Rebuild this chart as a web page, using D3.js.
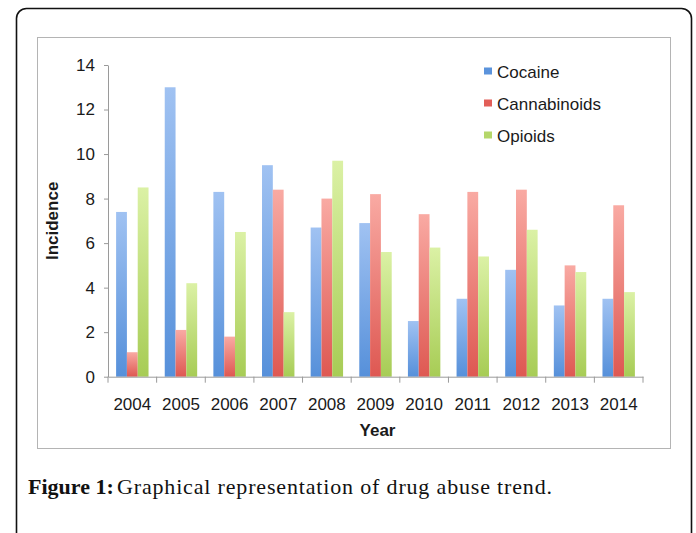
<!DOCTYPE html>
<html>
<head>
<meta charset="utf-8">
<script src="https://cdn.jsdelivr.net/npm/d3@7"></script>
<style>
  html, body { margin: 0; padding: 0; background: #fff; }
  svg { display: block; }
</style>
</head>
<body>
<svg id="chart" width="696" height="533"></svg>
<script>
// ---- data ----
const years = ["2004","2005","2006","2007","2008","2009","2010","2011","2012","2013","2014"];
const seriesNames = ["Cocaine","Cannabinoids","Opioids"];
const cocaine      = [7.4, 13.0, 8.3, 9.5, 6.7, 6.9, 2.5, 3.5, 4.8, 3.2, 3.5];
const cannabinoids = [1.1, 2.1, 1.8, 8.4, 8.0, 8.2, 7.3, 8.3, 8.4, 5.0, 7.7];
const opioids      = [8.5, 4.2, 6.5, 2.9, 9.7, 5.6, 5.8, 5.4, 6.6, 4.7, 3.8];
const yTicks = [0, 2, 4, 6, 8, 10, 12, 14];
const yLabel = "Incidence";
const xLabel = "Year";
const captionBold = "Figure 1:";
const captionText = "Graphical representation of drug abuse trend.";

const seriesValues = { "Cocaine": cocaine, "Cannabinoids": cannabinoids, "Opioids": opioids };
const colors = {
  "Cocaine":      { top: "#a0c2f2", bottom: "#5690da", legend: "#5b93dc" },
  "Cannabinoids": { top: "#f9aaa3", bottom: "#de5852", legend: "#e25e58" },
  "Opioids":      { top: "#dbf1a5", bottom: "#a7cc55", legend: "#b5d76a" }
};

const svg = d3.select("#chart");
const font = "'Liberation Sans', Arial, Helvetica, sans-serif";

// gradients
const defs = svg.append("defs");
seriesNames.forEach((s, i) => {
  const g = defs.append("linearGradient").attr("id", "grad" + i)
    .attr("x1", 0).attr("y1", 0).attr("x2", 0).attr("y2", 1);
  g.append("stop").attr("offset", "0%").attr("stop-color", colors[s].top);
  g.append("stop").attr("offset", "100%").attr("stop-color", colors[s].bottom);
});

// outer frame
svg.append("rect")
  .attr("x", 16.5).attr("y", 8.5).attr("width", 675).attr("height", 620)
  .attr("rx", 10).attr("ry", 10)
  .attr("fill", "none").attr("stroke", "#111").attr("stroke-width", 1.6);

// inner chart frame
svg.append("rect")
  .attr("x", 37.5).attr("y", 37.5).attr("width", 633).attr("height", 411)
  .attr("fill", "#fff").attr("stroke", "#b4b4b4").attr("stroke-width", 1);

// scales
const plotLeft = 108, plotRight = 643, plotTop = 65, plotBottom = 376.7;
const y = d3.scaleLinear().domain([0, 14]).range([plotBottom, plotTop]);
const x0 = d3.scaleBand().domain(years).range([plotLeft, plotRight]).padding(0);
const x1 = d3.scaleBand().domain(seriesNames).range([0, x0.bandwidth()])
  .paddingInner(0).paddingOuter(0.75);

// bars
const groups = svg.append("g").selectAll("g")
  .data(years.map((yr, i) => ({ yr, i })))
  .join("g")
  .attr("transform", d => `translate(${x0(d.yr)},0)`);

groups.selectAll("rect")
  .data(d => seriesNames.map((s, si) => ({ s, si, v: seriesValues[s][d.i] })))
  .join("rect")
  .attr("x", d => x1(d.s))
  .attr("width", x1.bandwidth())
  .attr("y", d => y(d.v))
  .attr("height", d => y(0) - y(d.v))
  .attr("fill", d => `url(#grad${d.si})`);

// y axis
const yAxis = d3.axisLeft(y).tickValues(yTicks).tickSize(4).tickPadding(9).tickSizeOuter(0);
const gy = svg.append("g").attr("transform", `translate(${plotLeft},0)`).call(yAxis);
gy.select(".domain").attr("stroke", "#9a9a9a");
gy.selectAll(".tick line").attr("stroke", "#9a9a9a");
gy.selectAll(".tick text").attr("font-family", font).attr("font-size", 17).attr("fill", "#1a1a1a");

// x axis
const xAxis = d3.axisBottom(x0).tickSize(0).tickPadding(21);
const gx = svg.append("g").attr("transform", `translate(0,${plotBottom})`).call(xAxis);
gx.select(".domain").attr("stroke", "#9a9a9a");
gx.selectAll(".tick text").attr("font-family", font).attr("font-size", 17).attr("fill", "#1a1a1a");
// boundary tick marks between groups
const bounds = years.map(yr => x0(yr)).concat([plotRight]);
gx.selectAll(".bound").data(bounds).join("line").attr("class", "bound")
  .attr("x1", d => d).attr("x2", d => d).attr("y1", 0).attr("y2", 6)
  .attr("stroke", "#9a9a9a");

// axis titles
svg.append("text")
  .attr("x", (plotLeft + plotRight) / 2 + 2).attr("y", 436)
  .attr("text-anchor", "middle").attr("font-family", font).attr("font-weight", "bold")
  .attr("font-size", 17).attr("fill", "#1a1a1a").text(xLabel);

svg.append("text")
  .attr("transform", `translate(58,${(plotTop + plotBottom) / 2}) rotate(-90)`)
  .attr("text-anchor", "middle").attr("font-family", font).attr("font-weight", "bold")
  .attr("font-size", 17).attr("fill", "#1a1a1a").text(yLabel);

// legend
const legend = svg.append("g").selectAll("g").data(seriesNames).join("g")
  .attr("transform", (d, i) => `translate(484,${71.5 + i * 32})`);
legend.append("rect").attr("x", 0).attr("y", -4).attr("width", 8).attr("height", 7)
  .attr("fill", d => colors[d].legend);
legend.append("text").attr("x", 13).attr("y", 6)
  .attr("font-family", font).attr("font-size", 17).attr("fill", "#1a1a1a")
  .text(d => d);

// caption
const serif = "'Liberation Serif', 'Times New Roman', serif";
svg.append("text").attr("x", 28).attr("y", 494)
  .attr("font-family", serif).attr("font-size", 22).attr("font-weight", "bold")
  .attr("fill", "#111").text(captionBold);
svg.append("text").attr("x", 117).attr("y", 494)
  .attr("font-family", serif).attr("font-size", 22).attr("fill", "#111")
  .attr("textLength", 435).attr("lengthAdjust", "spacing")
  .text(captionText);
</script>
</body>
</html>
